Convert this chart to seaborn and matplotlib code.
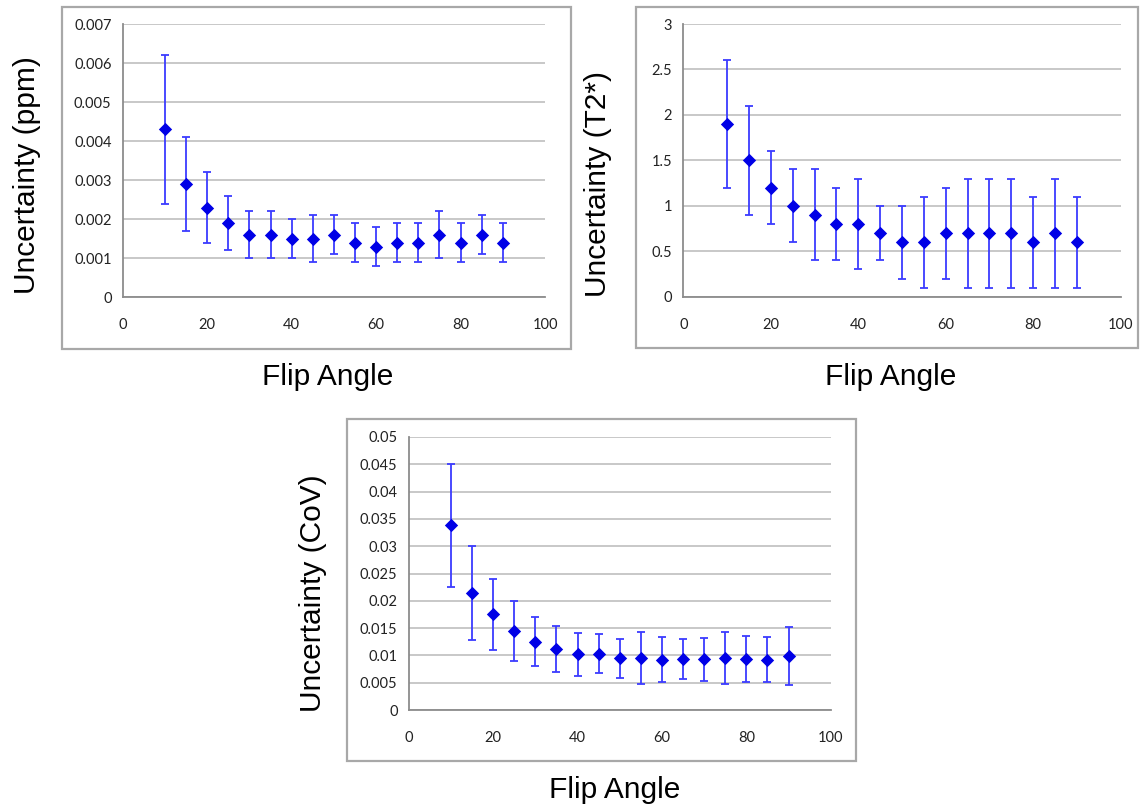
import numpy as np
import pandas as pd
import matplotlib
matplotlib.use("Agg")
import matplotlib.pyplot as plt
from matplotlib.patches import Rectangle
from matplotlib.ticker import FixedLocator, FuncFormatter
import seaborn as sns

# Flip angles (degrees)
flip_angle = [10, 15, 20, 25, 30, 35, 40, 45, 50, 55, 60, 65, 70, 75, 80, 85, 90]

# Chemical shift uncertainty (ppm)
ppm_mean = [0.0043, 0.0029, 0.0023, 0.0019, 0.0016, 0.0016, 0.0015, 0.0015, 0.0016,
            0.0014, 0.0013, 0.0014, 0.0014, 0.0016, 0.0014, 0.0016, 0.0014]
ppm_upper = [0.0062, 0.0041, 0.0032, 0.0026, 0.0022, 0.0022, 0.0020, 0.0021, 0.0021,
             0.0019, 0.0018, 0.0019, 0.0019, 0.0022, 0.0019, 0.0021, 0.0019]
ppm_lower = [0.0024, 0.0017, 0.0014, 0.0012, 0.0010, 0.0010, 0.0010, 0.0009, 0.0011,
             0.0009, 0.0008, 0.0009, 0.0009, 0.0010, 0.0009, 0.0011, 0.0009]

# T2* uncertainty
t2_mean = [1.9, 1.5, 1.2, 1.0, 0.9, 0.8, 0.8, 0.7, 0.6, 0.6, 0.7, 0.7, 0.7, 0.7, 0.6, 0.7, 0.6]
t2_upper = [2.6, 2.1, 1.6, 1.4, 1.4, 1.2, 1.3, 1.0, 1.0, 1.1, 1.2, 1.3, 1.3, 1.3, 1.1, 1.3, 1.1]
t2_lower = [1.2, 0.9, 0.8, 0.6, 0.4, 0.4, 0.3, 0.4, 0.2, 0.1, 0.2, 0.1, 0.1, 0.1, 0.1, 0.1, 0.1]

# Coefficient of variation uncertainty
cov_mean = [0.0338, 0.0214, 0.0175, 0.0145, 0.0125, 0.0112, 0.0103, 0.0103, 0.0095,
            0.0095, 0.0092, 0.0093, 0.0093, 0.0095, 0.0094, 0.0092, 0.0099]
cov_upper = [0.0451, 0.0301, 0.0240, 0.0199, 0.0170, 0.0154, 0.0141, 0.0140, 0.0130,
             0.0143, 0.0134, 0.0130, 0.0132, 0.0143, 0.0135, 0.0134, 0.0152]
cov_lower = [0.0225, 0.0128, 0.0110, 0.0089, 0.0080, 0.0070, 0.0063, 0.0067, 0.0059,
             0.0048, 0.0051, 0.0056, 0.0054, 0.0047, 0.0052, 0.0051, 0.0045]

x_ticks = [0, 20, 40, 60, 80, 100]
ppm_ticks = [0, 0.001, 0.002, 0.003, 0.004, 0.005, 0.006, 0.007]
t2_ticks = [0, 0.5, 1, 1.5, 2, 2.5, 3]
cov_ticks = [0, 0.005, 0.01, 0.015, 0.02, 0.025, 0.03, 0.035, 0.04, 0.045, 0.05]

sns.set_theme(style="white")
plt.rcParams["font.family"] = ["Lato", "DejaVu Sans"]

W, H = 1140, 808
fig = plt.figure(figsize=(W / 100, H / 100), dpi=100)
fig.patch.set_facecolor("white")

GRID = "#c4c4c4"
AXIS = "#8c8c8c"
FRAME = "#a8a8a8"
MARK = "#0000e6"
BAR = "#3c3cff"
LABEL_FONT = ["Liberation Sans", "DejaVu Sans"]


def px_axes(x0, x1, ytop, ybot):
    return fig.add_axes([x0 / W, 1 - ybot / H, (x1 - x0) / W, (ybot - ytop) / H])


def frame(x0, y0, x1, y1):
    fig.patches.append(Rectangle((x0 / W, 1 - y1 / H), (x1 - x0) / W, (y1 - y0) / H,
                                 transform=fig.transFigure, fill=False,
                                 edgecolor=FRAME, linewidth=1.6, zorder=0))


def panel(box, mean, upper, lower, yticks, ylabel, ylab_xy, xlab_xy):
    ax = px_axes(*box)
    mean = np.asarray(mean)
    yerr = [mean - np.asarray(lower), np.asarray(upper) - mean]
    ax.errorbar(flip_angle, mean, yerr=yerr, fmt="none", ecolor=BAR,
                elinewidth=1.3, capsize=3.2, capthick=1.3, zorder=3)
    df = pd.DataFrame({"Flip Angle": flip_angle, "value": mean})
    sns.scatterplot(data=df, x="Flip Angle", y="value", ax=ax, marker="D",
                    s=46, color=MARK, edgecolor=MARK, linewidth=0, zorder=4)

    ax.set_xlim(0, 100)
    ax.set_ylim(0, yticks[-1])
    ax.xaxis.set_major_locator(FixedLocator(x_ticks))
    ax.yaxis.set_major_locator(FixedLocator(yticks))
    ax.yaxis.set_major_formatter(FuncFormatter(lambda v, p: f"{round(v, 4):g}"))
    ax.xaxis.set_major_formatter(FuncFormatter(lambda v, p: f"{v:g}"))

    ax.grid(axis="y", color=GRID, linewidth=1.3)
    ax.grid(axis="x", visible=False)
    ax.set_axisbelow(True)
    for side in ("top", "right"):
        ax.spines[side].set_visible(False)
    for side in ("left", "bottom"):
        ax.spines[side].set_color(AXIS)
        ax.spines[side].set_linewidth(1.3)
        ax.spines[side].set_zorder(2)
    ax.tick_params(axis="both", direction="out", length=4, width=1.1, color=AXIS,
                   labelsize=10.5, labelcolor="#222222")
    ax.tick_params(axis="x", pad=11)
    ax.tick_params(axis="y", pad=4)
    ax.set_facecolor("white")

    ax.set_xlabel("Flip Angle", fontsize=21.5, family=LABEL_FONT,
                  color="black", va="center")
    ax.set_ylabel(ylabel, fontsize=21.5, family=LABEL_FONT,
                  color="black", va="center")
    ax.xaxis.set_label_coords(*xlab_xy)
    ax.yaxis.set_label_coords(*ylab_xy)
    return ax


# Chart-area frames
frame(62, 7, 571, 349)
frame(636, 7, 1138, 348)
frame(347, 419, 856, 761)

panel((122.7, 545.0, 24.0, 297.3), ppm_mean, ppm_upper, ppm_lower, ppm_ticks,
      "Uncertainty (ppm)", (-0.227, 0.448), (0.486, -0.292))
panel((683.3, 1120.7, 24.0, 296.7), t2_mean, t2_upper, t2_lower, t2_ticks,
      "Uncertainty (T2*)", (-0.195, 0.413), (0.475, -0.294))
panel((408.7, 830.7, 437.0, 710.0), cov_mean, cov_upper, cov_lower, cov_ticks,
      "Uncertainty (CoV)", (-0.227, 0.429), (0.489, -0.293))

fig.savefig("out.png", dpi=100, facecolor="white")
